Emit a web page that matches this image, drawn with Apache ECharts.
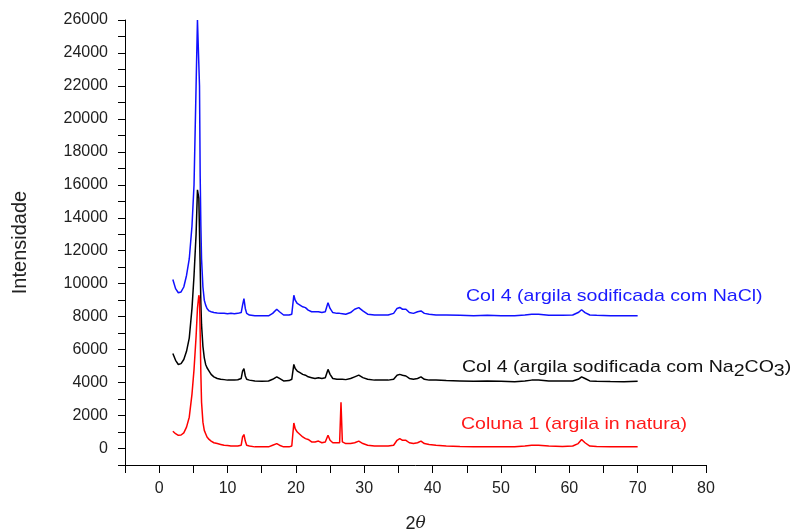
<!DOCTYPE html>
<html>
<head>
<meta charset="utf-8">
<script src="https://cdn.jsdelivr.net/npm/echarts@6/dist/echarts.min.js"></script>
<style>html,body{margin:0;padding:0;background:#fff;}#c{width:794px;height:531px;}</style>
</head>
<body>
<div id="c"></div>
<script>
// 2θ positions (degrees)
const twoTheta = [2,2.4,2.8,3.2,3.6,4.0,4.4,4.8,5.1,5.4,5.6,5.8,5.9,6.0,6.1,6.2,6.4,6.6,6.8,7.0,7.3,7.6,8.0,8.5,9,9.5,10,10.5,11,11.5,12,12.2,12.4,12.6,12.8,13.2,14,15,16,16.6,17.2,17.6,18.2,19,19.4,19.7,19.9,20.2,20.6,21,21.4,21.8,22.3,22.8,23.3,23.8,24.3,24.7,25.0,25.4,26,26.4,26.6,26.8,27.3,28,28.6,29.2,29.8,30.5,31.5,32.5,33.5,34.3,34.8,35.2,35.6,36.1,36.6,37.2,37.8,38.3,38.8,39.5,40.5,42,44,46,48,50,52,53.5,54.5,55.5,57,59,60.5,61.3,61.8,62.3,63,64,66,68,70];

// Col 4 (argila sodificada com NaCl)
const naclValues = [10250,9700,9450,9500,9800,10500,11500,13500,16000,22000,26000,26000,22000,16500,13500,11500,9800,9000,8700,8500,8350,8300,8250,8220,8200,8200,8180,8200,8180,8200,8250,8700,9100,8500,8200,8100,8050,8050,8050,8200,8450,8300,8100,8100,8150,9300,9000,8800,8700,8600,8550,8400,8300,8300,8300,8250,8300,8850,8500,8250,8200,8200,8200,8180,8150,8250,8450,8550,8350,8150,8100,8100,8100,8200,8500,8560,8450,8450,8250,8200,8300,8350,8200,8150,8100,8100,8080,8060,8080,8050,8050,8100,8150,8150,8080,8080,8100,8250,8420,8250,8100,8080,8060,8050,8050];

// Col 4 (argila sodificada com Na2CO3)
const na2co3Values = [5770,5350,5100,5150,5400,5900,6700,8500,10500,13000,15700,15200,15200,11000,8800,7500,6200,5500,5100,4900,4700,4500,4350,4250,4200,4180,4150,4150,4150,4170,4250,4700,4850,4400,4200,4150,4100,4080,4100,4200,4350,4250,4100,4120,4200,5100,4850,4700,4600,4500,4450,4350,4300,4250,4300,4250,4300,4800,4500,4250,4200,4200,4150,4200,4180,4250,4350,4450,4300,4200,4150,4150,4150,4200,4450,4500,4450,4400,4250,4200,4250,4350,4200,4150,4150,4120,4100,4080,4100,4080,4050,4100,4150,4150,4100,4100,4100,4200,4350,4250,4100,4080,4060,4050,4080];

// Coluna 1 (argila in natura)
const naturaValues = [1050,900,800,820,950,1300,1900,3300,4800,6800,8500,9300,9100,7000,4500,2800,1600,1100,900,700,550,450,350,300,250,200,180,150,150,150,200,700,850,450,200,150,100,100,100,200,300,200,100,100,150,1550,1200,1000,850,700,600,550,400,400,450,350,400,800,500,350,350,350,2800,400,300,300,350,450,300,200,150,150,150,200,500,600,500,500,350,300,350,450,300,250,200,150,120,100,100,100,100,150,200,200,150,120,150,300,550,350,150,120,100,100,100];

const seriesNames = ['Col 4 (argila sodificada com NaCl)', 'Col 4 (argila sodificada com Na2CO3)', 'Coluna 1 (argila in natura)'];

const pairs = vals => twoTheta.map((x, i) => [x, vals[i]]);
const FONT = 'Liberation Sans, Arial, sans-serif';

const chart = echarts.init(document.getElementById('c'), null, {renderer: 'canvas'});
chart.setOption({
  animation: false,
  backgroundColor: '#fff',
  grid: {left: 125, right: 88, top: 20, bottom: 66, containLabel: false, outerBoundsMode: 'none'},
  xAxis: {
    type: 'value', min: -5, max: 80, interval: 5,
    name: '2{i|θ}', nameLocation: 'middle', nameGap: 50,
    nameTextStyle: {fontFamily: FONT, fontSize: 18, color: '#222', rich: {i: {fontStyle: 'italic', fontFamily: 'DejaVu Serif, serif', fontSize: 17, color: '#222'}}},
    axisLine: {show: true, onZero: false, lineStyle: {color: '#000', width: 1}},
    axisTick: {show: true, length: 8, lineStyle: {color: '#000'}},
    axisLabel: {fontFamily: FONT, fontSize: 16, color: '#222', margin: 16,
      formatter: v => (v % 10 === 0 ? String(v) : '')},
    splitLine: {show: false}
  },
  yAxis: {
    type: 'value', min: -1000, max: 26000, interval: 1000,
    name: 'Intensidade', nameLocation: 'middle', nameGap: 95, nameRotate: 90,
    nameTextStyle: {fontFamily: FONT, fontSize: 20, color: '#222'},
    axisLine: {show: true, onZero: false, lineStyle: {color: '#000', width: 1}},
    axisTick: {show: true, length: 7, lineStyle: {color: '#000'}},
    axisLabel: {fontFamily: FONT, fontSize: 16, color: '#222', margin: 17,
      formatter: v => (Math.abs(v) % 2000 === 0 ? String(v) : '')},
    splitLine: {show: false}
  },
  series: [
    {name: seriesNames[0], type: 'line', data: pairs(naclValues), showSymbol: false, lineStyle: {color: '#1010ff', width: 1.5}, z: 3},
    {name: seriesNames[1], type: 'line', data: pairs(na2co3Values), showSymbol: false, lineStyle: {color: '#000000', width: 1.5}, z: 4},
    {name: seriesNames[2], type: 'line', data: pairs(naturaValues), showSymbol: false, lineStyle: {color: '#ff0000', width: 1.5}, z: 5}
  ],
  graphic: [
    {type: 'text', x: 466, y: 288, scaleX: 1.15, style: {text: 'Col 4 (argila sodificada com NaCl)', font: '17px ' + FONT, fill: '#1a1aff'}},
    {type: 'text', x: 462, y: 354, scaleX: 1.15, style: {
      text: 'Col 4 (argila sodificada com Na{s|2}CO{s|3})',
      font: '17px ' + FONT, fill: '#111',
      rich: {s: {fontSize: 17, fontFamily: FONT, fill: '#111', padding: [9, 0, 0, 0], verticalAlign: 'top'}}
    }},
    {type: 'text', x: 461, y: 416, scaleX: 1.15, style: {text: 'Coluna 1 (argila in natura)', font: '17px ' + FONT, fill: '#ff1a1a'}}
  ]
});
</script>
</body>
</html>
